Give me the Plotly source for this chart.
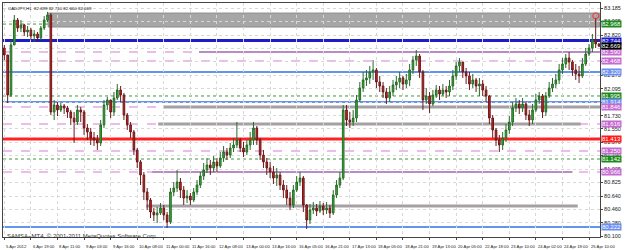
import plotly.graph_objects as go

# ---------------- data (CADJPY, 2-hour bars) ----------------
first_open = 82.644
closes = [
    82.550, 82.008, 82.685, 83.023, 82.915, 82.956, 82.861, 82.888, 82.807, 82.834,
    82.780, 82.915, 83.023, 83.091, 81.778, 81.873, 81.806, 81.860, 81.833, 81.778,
    81.697, 81.643, 81.806, 81.778, 81.562, 81.508, 81.427, 81.399, 81.359, 81.603,
    81.873, 81.941, 81.778, 81.968, 82.076, 82.008, 81.738, 81.603, 81.508, 81.264,
    81.102, 80.926, 80.696, 80.588, 80.425, 80.385, 80.412, 80.479, 80.385, 80.290,
    80.696, 80.750, 80.831, 80.723, 80.614, 80.641, 80.588, 80.696, 80.790, 80.912,
    80.994, 81.061, 81.021, 81.102, 81.048, 81.156, 81.237, 81.196, 81.291, 81.332,
    81.399, 81.291, 81.237, 81.332, 81.399, 81.562, 81.399, 81.196, 81.102, 81.021,
    80.966, 80.885, 80.926, 80.790, 80.723, 80.614, 80.520, 80.723, 80.831, 80.885,
    80.520, 80.317, 80.452, 80.479, 80.439, 80.506, 80.452, 80.479, 80.412, 80.655,
    80.790, 80.885, 81.806, 81.670, 81.643, 81.697, 81.941, 82.103, 82.212, 82.239,
    82.320, 82.347, 82.184, 82.130, 82.049, 81.968, 82.049, 82.144, 82.184, 82.239,
    82.157, 82.212, 82.347, 82.482, 82.536, 82.320, 81.941, 81.995, 81.887, 82.008,
    82.076, 82.022, 82.076, 82.049, 82.130, 82.266, 82.401, 82.455, 82.320, 82.266,
    82.157, 82.212, 82.130, 82.157, 82.076, 81.995, 81.697, 81.535, 81.399, 81.332,
    81.427, 81.535, 81.643, 81.833, 81.887, 81.833, 81.887, 81.738, 81.670, 81.806,
    81.941, 81.995, 81.778, 81.995, 82.103, 82.157, 82.212, 82.347, 82.428, 82.509,
    82.455, 82.347, 82.293, 82.266, 82.428, 82.563, 82.644, 82.753, 82.699, 82.669,
]
highs = [
    82.685, 82.550, 82.753, 83.091, 83.050, 83.023, 82.970, 82.942, 82.915, 82.888,
    82.861, 82.942, 83.077, 83.132, 83.118, 81.941, 81.914, 81.900, 81.887, 81.860,
    81.806, 81.778, 81.873, 81.846, 81.806, 81.616, 81.562, 81.508, 81.467, 81.670,
    81.941, 81.981, 81.941, 82.049, 82.157, 82.130, 82.036, 81.765, 81.643, 81.535,
    81.291, 81.129, 80.966, 80.750, 80.614, 80.479, 80.493, 80.547, 80.520, 80.425,
    80.750, 80.831, 80.994, 80.885, 80.777, 80.723, 80.682, 80.750, 80.858, 80.966,
    81.088, 81.156, 81.129, 81.183, 81.156, 81.237, 81.318, 81.291, 81.359, 81.427,
    81.643, 81.427, 81.372, 81.399, 81.508, 81.643, 81.589, 81.427, 81.264, 81.156,
    81.102, 81.048, 81.021, 80.966, 80.858, 80.790, 80.696, 80.790, 80.912, 80.966,
    80.912, 80.533, 80.533, 80.560, 80.533, 80.574, 80.547, 80.560, 80.520, 80.723,
    80.858, 80.966, 81.873, 81.873, 81.778, 81.806, 82.008, 82.184, 82.320, 82.347,
    82.401, 82.482, 82.374, 82.266, 82.184, 82.103, 82.130, 82.212, 82.266, 82.320,
    82.266, 82.293, 82.428, 82.536, 82.617, 82.563, 82.347, 82.103, 82.049, 82.076,
    82.144, 82.130, 82.157, 82.130, 82.212, 82.347, 82.455, 82.509, 82.455, 82.374,
    82.320, 82.293, 82.239, 82.239, 82.212, 82.130, 82.008, 81.738, 81.562, 81.467,
    81.508, 81.616, 81.724, 81.914, 81.968, 81.941, 81.968, 81.914, 81.806, 81.887,
    82.022, 82.049, 82.022, 82.049, 82.184, 82.239, 82.293, 82.428, 82.509, 82.563,
    82.590, 82.482, 82.428, 82.401, 82.509, 82.644, 82.699, 82.834, 83.050, 82.710,
]
lows = [
    82.482, 81.900, 81.981, 82.685, 82.861, 82.861, 82.807, 82.793, 82.753, 82.726,
    82.726, 82.753, 82.888, 82.996, 81.738, 81.670, 81.724, 81.778, 81.751, 81.697,
    81.603, 81.359, 81.603, 81.643, 81.467, 81.399, 81.332, 81.318, 81.264, 81.318,
    81.562, 81.806, 81.697, 81.724, 81.941, 81.914, 81.670, 81.535, 81.427, 81.196,
    81.021, 80.790, 80.588, 80.452, 80.344, 80.303, 80.276, 80.385, 80.317, 80.209,
    80.263, 80.641, 80.696, 80.614, 80.520, 80.547, 80.520, 80.560, 80.655, 80.750,
    80.858, 80.953, 80.926, 80.966, 80.966, 81.021, 81.102, 81.129, 81.156, 81.237,
    81.291, 81.237, 81.169, 81.196, 81.264, 81.332, 81.332, 81.129, 81.021, 80.926,
    80.885, 80.804, 80.777, 80.723, 80.614, 80.520, 80.452, 80.479, 80.696, 80.777,
    80.425, 80.195, 80.263, 80.398, 80.371, 80.412, 80.385, 80.398, 80.344, 80.385,
    80.614, 80.750, 80.858, 81.589, 81.562, 81.589, 81.643, 81.914, 82.049, 82.130,
    82.157, 82.212, 82.103, 82.049, 81.968, 81.887, 81.914, 81.995, 82.076, 82.103,
    82.076, 82.103, 82.130, 82.293, 82.401, 82.239, 81.806, 81.887, 81.765, 81.860,
    81.968, 81.941, 81.995, 81.968, 81.995, 82.076, 82.212, 82.320, 82.239, 82.157,
    82.076, 82.103, 82.049, 81.995, 81.995, 81.914, 81.616, 81.427, 81.318, 81.237,
    81.264, 81.372, 81.481, 81.589, 81.778, 81.751, 81.778, 81.670, 81.589, 81.616,
    81.778, 81.887, 81.697, 81.724, 81.968, 82.049, 82.103, 82.157, 82.293, 82.374,
    82.347, 82.266, 82.212, 82.171, 82.239, 82.401, 82.536, 82.590, 82.644, 82.660,
]
opens = [first_open] + closes[:-1]
bars = list(range(len(closes)))

date_labels = [
    "5 Apr 2012", "6 Apr 19:00", "8 Apr 11:00", "9 Apr 03:00", "9 Apr 16:00",
    "10 Apr 08:00", "11 Apr 00:00", "11 Apr 16:00", "12 Apr 08:00", "13 Apr 00:00",
    "13 Apr 16:00", "16 Apr 05:00", "16 Apr 21:00", "17 Apr 13:00", "18 Apr 05:00",
    "18 Apr 21:00", "19 Apr 13:00", "20 Apr 05:00", "22 Apr 18:00", "23 Apr 10:00",
    "24 Apr 02:00", "24 Apr 18:00", "25 Apr 10:00",
]
price_ticks = [83.185, 83.005, 82.820, 82.640, 82.455, 82.275, 82.095, 81.910, 81.730,
               81.550, 81.370, 81.190, 81.005, 80.825, 80.640, 80.460, 80.280, 80.100]

# horizontal levels drawn on the chart
green_levels = [82.968, 81.995, 81.142]
blue_levels = [82.320, 81.914, 80.222]
pink_levels = [82.590, 82.468, 81.846, 81.616, 81.250, 80.966]
main_blue_level = 82.744
red_level = 81.413
gray_zone = [82.928, 83.117]
gray_levels = [81.846, 81.616, 80.506]
purple_levels = [82.590, 80.966]
title_text = "CADJPY,H1  82.699 82.710 82.660 82.669"
last_price = 82.669

# ---------------- figure ----------------
fig = go.Figure()
fig.add_trace(go.Candlestick(
    x=bars, open=opens, high=highs, low=lows, close=closes,
    increasing=dict(line=dict(color="#2a6a2a", width=1), fillcolor="#2fb52f"),
    decreasing=dict(line=dict(color="#6a1a1a", width=1), fillcolor="#d42020"),
    whiskerwidth=0, showlegend=False, hoverinfo="skip",
))

shapes = []
# gray resistance zone
shapes.append(dict(type="rect", xref="x", yref="y", x0=13.2, x1=179.2,
                   y0=gray_zone[0], y1=gray_zone[1], layer="below",
                   fillcolor="#a6a6a6", line=dict(color="#8c8c8c", width=1)))
for v in green_levels:
    shapes.append(dict(type="line", xref="paper", yref="y", x0=0, x1=1, y0=v, y1=v,
                       layer="below", line=dict(color="#3a9a3a", width=1, dash="dot")))
for v in pink_levels:
    shapes.append(dict(type="line", xref="paper", yref="y", x0=0, x1=1, y0=v, y1=v,
                       layer="below", line=dict(color="#e6a6e6", width=1.5, dash="dash")))
gray_spans = [(47.8, 179.5), (46.3, 173.5), (42.7, 172.6)]
for v, (a, b) in zip(gray_levels, gray_spans):
    shapes.append(dict(type="line", xref="x", yref="y", x0=a, x1=b, y0=v, y1=v,
                       layer="below", line=dict(color="#a4a0a4", width=3)))
purple_spans = [(58.6, 179.5), (44.5, 171.0)]
for v, (a, b) in zip(purple_levels, purple_spans):
    shapes.append(dict(type="line", xref="x", yref="y", x0=a, x1=b, y0=v, y1=v,
                       layer="below", line=dict(color="#b88cc4", width=2)))
for v in blue_levels:
    shapes.append(dict(type="line", xref="paper", yref="y", x0=0, x1=1, y0=v, y1=v,
                       layer="below", line=dict(color="#6495ed", width=2)))
shapes.append(dict(type="line", xref="paper", yref="y", x0=0, x1=1,
                   y0=main_blue_level, y1=main_blue_level, layer="below",
                   line=dict(color="#1c1cc8", width=3)))
shapes.append(dict(type="line", xref="paper", yref="y", x0=0, x1=1,
                   y0=red_level, y1=red_level, layer="below",
                   line=dict(color="#ff2222", width=3)))

annotations = []
# right-side price boxes
box_specs = ([(v, "#1d8a1d") for v in green_levels] + [(v, "#6a8ff0") for v in blue_levels]
             + [(v, "#c46ad0") for v in pink_levels]
             + [(main_blue_level, "#1c1cd8"), (red_level, "#ff1a1a"), (last_price, "#000000")])
for v, col in box_specs:
    annotations.append(dict(xref="paper", yref="y", x=1, y=v, xanchor="left", yanchor="middle",
                            xshift=1, text=f"{v:.3f}", showarrow=False, bgcolor=col,
                            borderpad=0, font=dict(size=6, color="white", family="Liberation Sans")))
# x labels (left aligned, MT4 style)
for k, lab in enumerate(date_labels):
    annotations.append(dict(xref="paper", yref="paper", x=(k * 8 + 0.4) / 179.7, y=0, yshift=-5,
                            xanchor="left", yanchor="top", text=lab, showarrow=False,
                            font=dict(size=4.2, color="#222", family="Liberation Sans")))
annotations.append(dict(xref="paper", yref="paper", x=0, y=1, xshift=3, yshift=-1,
                        xanchor="left", yanchor="top", text=title_text, showarrow=False,
                        font=dict(size=4.4, color="#111", family="Liberation Sans")))
annotations.append(dict(xref="paper", yref="paper", x=0, y=0, xshift=2, yshift=1,
                        xanchor="left", yanchor="middle",
                        text="SAMSA~MT4, © 2001-2011 MetaQuotes Software Corp.", showarrow=False,
                        font=dict(size=6, color="#333", family="Liberation Sans")))

fig.add_trace(go.Scatter(x=[178], y=[83.08], mode="markers", showlegend=False, hoverinfo="skip",
                         marker=dict(symbol="circle-open", size=6, color="#ff3030", line=dict(width=1))))

fig.update_layout(
    width=625, height=250, margin=dict(l=3, r=25, t=3, b=13),
    paper_bgcolor="white", plot_bgcolor="white",
    shapes=shapes, annotations=annotations, showlegend=False,
    xaxis=dict(range=[-0.4, 179.3], rangeslider=dict(visible=False), showticklabels=False,
               tickvals=[k * 8 for k in range(len(date_labels))], ticks="outside", ticklen=2,
               showgrid=True, gridcolor="#d8d8d8", griddash="dot", gridwidth=1,
               showline=True, linecolor="#444", linewidth=1, mirror=True, zeroline=False),
    yaxis=dict(range=[80.087, 83.253], side="right", tickvals=price_ticks,
               ticktext=[f"{t:.3f}" for t in price_ticks], ticks="outside", ticklen=2,
               tickfont=dict(size=5.5, color="#222", family="Liberation Sans"),
               showgrid=True, gridcolor="#d8d8d8", griddash="dot", gridwidth=1,
               showline=True, linecolor="#444", linewidth=1, mirror=True, zeroline=False),
)

fig.write_html("out.html")
